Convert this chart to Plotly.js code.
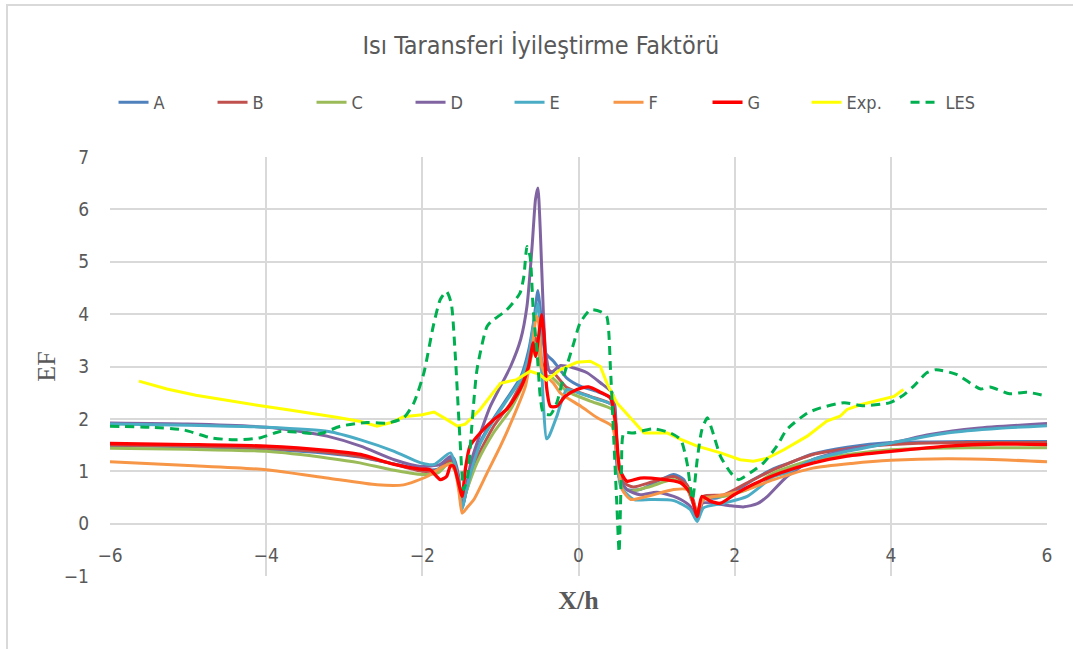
<!DOCTYPE html>
<html>
<head>
<meta charset="utf-8">
<script src="https://cdn.plot.ly/plotly-3.0.1.min.js"></script>
<style>
  html, body { margin: 0; padding: 0; background: #fff; }
  #wrap { position: relative; width: 1073px; height: 649px; overflow: hidden; }
  #chart { position: absolute; left: 0; top: 0; width: 1073px; height: 649px; }
  #frame { position: absolute; left: 6px; top: 4px; width: 1080px; height: 660px;
           border-left: 2px solid #d9d9d9; border-top: 2px solid #d9d9d9; pointer-events: none; }
</style>
</head>
<body>
<div id="wrap">
  <div id="chart"></div>
  <div id="frame"></div>
</div>
<script>
// ---- Data ----
const seriesNames = ["A", "B", "C", "D", "E", "F", "G", "Exp.", "LES"];

const xA = [-6, -5, -4, -3.2, -2.8, -2.4, -2.0, -1.8, -1.68, -1.6, -1.54, -1.49, -1.44, -1.38, -1.26, -1.09, -0.91, -0.74, -0.64, -0.57, -0.52, -0.49, -0.45, -0.42, -0.32, -0.15, 0.03, 0.24, 0.41, 0.45, 0.5, 0.56, 0.62, 0.79, 1.05, 1.22, 1.35, 1.45, 1.54, 1.6, 1.77, 2.0, 2.24, 2.5, 2.67, 3.0, 3.44, 4.0, 4.5, 5.0, 5.5, 6.0];
const yA = [1.49, 1.47, 1.42, 1.34, 1.27, 1.15, 1.03, 1.04, 1.22, 1.25, 0.95, 0.3, 0.6, 1.0, 1.55, 2.0, 2.4, 2.8, 3.3, 3.9, 4.45, 4.1, 3.45, 3.25, 3.1, 2.78, 2.62, 2.52, 2.4, 2.2, 1.0, 0.75, 0.65, 0.65, 0.84, 0.94, 0.84, 0.45, 0.14, 0.46, 0.49, 0.62, 0.84, 1.05, 1.14, 1.33, 1.46, 1.55, 1.56, 1.57, 1.57, 1.57];

const xB = [-6, -5, -4, -3.2, -2.8, -2.4, -2.0, -1.8, -1.68, -1.6, -1.54, -1.49, -1.44, -1.3, -1.09, -0.87, -0.7, -0.59, -0.55, -0.51, -0.45, -0.4, -0.3, -0.15, 0.15, 0.43, 0.47, 0.52, 0.58, 0.7, 0.95, 1.22, 1.39, 1.47, 1.52, 1.6, 1.86, 2.16, 2.5, 3.0, 3.5, 4.0, 4.5, 5.0, 5.5, 6.0];
const yB = [1.50, 1.48, 1.44, 1.36, 1.28, 1.15, 1.0, 1.02, 1.18, 1.2, 0.9, 0.32, 0.6, 1.25, 1.85, 2.3, 2.8, 3.35, 3.55, 3.35, 3.0, 2.95, 2.85, 2.6, 2.43, 2.27, 2.0, 1.0, 0.78, 0.7, 0.8, 0.9, 0.74, 0.45, 0.2, 0.52, 0.55, 0.78, 1.03, 1.32, 1.44, 1.51, 1.54, 1.55, 1.55, 1.55];

const xC = [-6, -5, -4, -3.2, -2.8, -2.4, -2.0, -1.8, -1.68, -1.6, -1.54, -1.49, -1.44, -1.3, -1.09, -0.87, -0.7, -0.59, -0.55, -0.51, -0.45, -0.36, -0.15, 0.15, 0.43, 0.47, 0.52, 0.58, 0.67, 0.92, 1.22, 1.39, 1.47, 1.52, 1.6, 1.86, 2.16, 2.5, 3.0, 3.5, 4.0, 4.5, 5.0, 5.5, 6.0];
const yC = [1.44, 1.42, 1.38, 1.25, 1.16, 1.03, 0.94, 0.97, 1.13, 1.15, 0.85, 0.36, 0.6, 1.16, 1.73, 2.18, 2.69, 3.26, 3.45, 3.26, 2.81, 2.81, 2.53, 2.34, 2.18, 1.9, 0.9, 0.7, 0.62, 0.71, 0.84, 0.68, 0.4, 0.17, 0.49, 0.52, 0.65, 0.97, 1.22, 1.33, 1.41, 1.44, 1.45, 1.45, 1.45];

const xD = [-6, -5, -4, -3.6, -3.22, -2.79, -2.36, -2.02, -1.77, -1.64, -1.56, -1.49, -1.45, -1.38, -1.256, -1.13, -1.0, -0.87, -0.74, -0.66, -0.594, -0.55, -0.52, -0.49, -0.45, -0.42, -0.36, -0.23, -0.06, 0.11, 0.28, 0.43, 0.47, 0.52, 0.62, 0.79, 1.0, 1.22, 1.31, 1.43, 1.52, 1.58, 1.73, 1.95, 2.12, 2.29, 2.42, 2.67, 3.0, 3.44, 4.0, 4.5, 5.1, 6.0];
const yD = [1.92, 1.90, 1.84, 1.77, 1.67, 1.48, 1.22, 1.09, 1.13, 1.28, 1.0, 0.33, 0.59, 1.16, 1.73, 2.24, 2.62, 3.0, 3.52, 4.15, 5.3, 6.2, 6.41, 5.62, 4.03, 3.26, 2.88, 3.02, 2.97, 2.88, 2.69, 2.5, 2.2, 0.9, 0.65, 0.55, 0.6, 0.52, 0.46, 0.33, 0.08, 0.39, 0.39, 0.34, 0.32, 0.38, 0.52, 0.9, 1.22, 1.41, 1.54, 1.70, 1.82, 1.91];

const xE = [-6, -5, -4, -3.2, -2.79, -2.36, -2.02, -1.85, -1.64, -1.56, -1.49, -1.45, -1.38, -1.26, -1.09, -0.91, -0.74, -0.64, -0.57, -0.52, -0.49, -0.45, -0.41, -0.38, -0.28, -0.15, 0.02, 0.23, 0.43, 0.47, 0.54, 0.71, 0.92, 1.22, 1.43, 1.52, 1.6, 1.86, 2.16, 2.5, 2.67, 3.0, 3.44, 4.0, 4.72, 5.4, 6.0];
const yE = [1.90, 1.88, 1.84, 1.76, 1.60, 1.38, 1.16, 1.13, 1.35, 1.0, 0.27, 0.55, 0.97, 1.52, 1.97, 2.37, 2.75, 3.2, 3.85, 4.2, 3.6, 2.3, 1.62, 1.66, 2.04, 2.56, 2.49, 2.38, 2.27, 2.0, 0.71, 0.46, 0.46, 0.44, 0.27, 0.04, 0.3, 0.39, 0.52, 0.9, 0.97, 1.22, 1.38, 1.54, 1.73, 1.82, 1.87];

const xF = [-6, -5, -4, -3.22, -2.58, -2.24, -1.94, -1.75, -1.64, -1.58, -1.53, -1.49, -1.43, -1.34, -1.17, -1.0, -0.83, -0.68, -0.59, -0.54, -0.51, -0.47, -0.4, -0.32, -0.23, 0.03, 0.24, 0.43, 0.47, 0.56, 0.67, 0.88, 1.22, 1.39, 1.47, 1.52, 1.6, 1.86, 2.16, 2.5, 3.0, 3.5, 4.0, 4.72, 5.4, 6.0];
const yF = [1.18, 1.11, 1.03, 0.87, 0.74, 0.74, 0.9, 1.08, 1.13, 1.0, 0.6, 0.2, 0.3, 0.46, 0.97, 1.48, 2.05, 2.62, 3.39, 3.96, 3.83, 3.0, 2.8, 2.68, 2.49, 2.24, 2.02, 1.86, 1.6, 0.65, 0.46, 0.52, 0.65, 0.65, 0.4, 0.2, 0.46, 0.55, 0.65, 0.84, 1.06, 1.15, 1.21, 1.24, 1.22, 1.18];

const xG = [-6, -5, -4, -3.22, -2.79, -2.36, -2.02, -1.9, -1.77, -1.69, -1.64, -1.6, -1.54, -1.49, -1.45, -1.39, -1.26, -1.09, -0.92, -0.75, -0.64, -0.58, -0.55, -0.51, -0.47, -0.44, -0.41, -0.36, -0.28, -0.17, -0.02, 0.13, 0.28, 0.41, 0.47, 0.53, 0.62, 0.79, 1.05, 1.31, 1.43, 1.52, 1.58, 1.69, 1.82, 1.99, 2.24, 2.59, 3.01, 3.44, 4.0, 4.72, 5.36, 6.0];
const yG = [1.53, 1.51, 1.48, 1.40, 1.32, 1.13, 1.04, 1.03, 0.84, 0.9, 1.1, 1.1, 0.8, 0.52, 1.03, 1.48, 1.73, 1.98, 2.18, 2.56, 3.0, 3.45, 3.19, 3.58, 3.99, 3.58, 2.62, 2.24, 2.24, 2.43, 2.56, 2.61, 2.51, 2.40, 1.98, 1.03, 0.81, 0.87, 0.85, 0.78, 0.59, 0.14, 0.52, 0.43, 0.39, 0.55, 0.75, 0.97, 1.16, 1.29, 1.38, 1.48, 1.52, 1.51];

const xExp = [-5.63, -5.27, -4.9, -4.5, -4.07, -3.7, -3.43, -3.1, -2.79, -2.58, -2.4, -2.24, -2.0, -1.85, -1.7, -1.55, -1.45, -1.26, -1.0, -0.79, -0.62, -0.5, -0.41, -0.23, -0.02, 0.15, 0.28, 0.37, 0.49, 0.67, 0.84, 1.14, 1.31, 1.52, 1.82, 2.07, 2.24, 2.42, 2.63, 2.93, 3.18, 3.35, 3.44, 3.61, 3.87, 4.04, 4.16];
const yExp = [2.72, 2.57, 2.45, 2.35, 2.25, 2.17, 2.11, 2.03, 1.95, 1.86, 1.93, 2.04, 2.08, 2.13, 2.0, 1.86, 1.9, 2.18, 2.68, 2.75, 2.91, 2.85, 2.74, 2.94, 3.08, 3.10, 3.0, 2.66, 2.31, 2.02, 1.73, 1.73, 1.61, 1.48, 1.35, 1.22, 1.19, 1.25, 1.41, 1.67, 1.96, 2.05, 2.18, 2.27, 2.37, 2.43, 2.56];

const xLES = [-6, -5.48, -5.06, -4.71, -4.41, -4.07, -3.82, -3.56, -3.3, -3.05, -2.71, -2.45, -2.24, -2.11, -1.98, -1.86, -1.77, -1.69, -1.63, -1.58, -1.52, -1.47, -1.42, -1.37, -1.30, -1.17, -1.09, -0.92, -0.75, -0.70, -0.66, -0.62, -0.58, -0.53, -0.49, -0.45, -0.36, -0.28, -0.19, -0.06, 0.02, 0.15, 0.28, 0.36, 0.41, 0.45, 0.49, 0.52, 0.55, 0.58, 0.70, 0.96, 1.18, 1.31, 1.39, 1.46, 1.52, 1.58, 1.65, 1.71, 1.82, 1.95, 2.05, 2.20, 2.37, 2.54, 2.67, 2.93, 3.10, 3.40, 3.65, 3.99, 4.14, 4.29, 4.46, 4.58, 4.84, 5.15, 5.27, 5.52, 5.74, 6.0];
const yLES = [1.86, 1.84, 1.79, 1.64, 1.60, 1.64, 1.76, 1.74, 1.72, 1.86, 1.93, 1.92, 2.02, 2.30, 2.88, 3.77, 4.28, 4.43, 4.21, 3.26, 1.67, 0.65, 0.9, 1.79, 2.94, 3.77, 3.89, 4.08, 4.40, 4.72, 5.29, 5.10, 4.08, 3.26, 2.43, 2.11, 2.08, 2.30, 2.81, 3.45, 3.83, 4.08, 4.05, 3.96, 2.94, 1.67, 0.40, -0.55, 1.03, 1.73, 1.73, 1.81, 1.73, 1.60, 1.16, 0.46, 1.22, 1.79, 2.02, 1.79, 1.28, 0.97, 0.84, 0.97, 1.16, 1.48, 1.80, 2.11, 2.21, 2.31, 2.25, 2.31, 2.43, 2.62, 2.88, 2.94, 2.85, 2.57, 2.61, 2.48, 2.51, 2.43];

const titleText = "Isı Taransferi İyileştirme Faktörü";
const xTitle = "X/h";
const yTitle = "EF";

// ---- Styling ----
const narrow = "'Liberation Sans Narrow', 'DejaVu Sans Condensed', 'Liberation Sans', sans-serif";
const serif = "'Liberation Serif', 'DejaVu Serif', serif";
const textGray = "#595959";
const grid = "#d9d9d9";

const xs = [xA, xB, xC, xD, xE, xF, xG, xExp, xLES];
const ys = [yA, yB, yC, yD, yE, yF, yG, yExp, yLES];
const colors = ["#4F81BD", "#C0504D", "#9BBB59", "#8064A2", "#4BACC6", "#F79646", "#FF0000", "#FFFF00", "#00B050"];

const traces = seriesNames.map((name, i) => {
  const isExp = name === "Exp.";
  const isLES = name === "LES";
  return {
    x: xs[i], y: ys[i], name: name, type: "scatter", mode: "lines",
    line: {
      color: colors[i],
      width: (name === "G") ? 3.3 : 3,
      shape: isExp ? "linear" : "spline",
      smoothing: 0.6,
      dash: isLES ? "9px,6px" : "solid"
    },
    hoverinfo: "skip"
  };
});

const layout = {
  width: 1073, height: 649,
  margin: {l: 110, r: 26, t: 157, b: 73, pad: 0},
  paper_bgcolor: "#ffffff", plot_bgcolor: "#ffffff",
  title: {
    text: titleText, x: 0.504, xanchor: "center", y: 0.93, yanchor: "middle",
    font: {family: narrow, size: 25, color: textGray}
  },
  showlegend: true,
  legend: {
    orientation: "h", x: 0.521, xanchor: "center", xref: "container",
    y: 0.842, yanchor: "middle", yref: "container",
    font: {family: narrow, size: 18, color: textGray},
    itemwidth: 30, entrywidth: 54, entrywidthmode: "pixels",
    traceorder: "normal", bgcolor: "rgba(0,0,0,0)"
  },
  xaxis: {
    range: [-6, 6], tick0: -6, dtick: 2, tickmode: "linear",
    showgrid: true, gridcolor: grid, gridwidth: 2,
    zeroline: false, showline: false, ticks: "",
    anchor: "free", position: 0.125,
    ticklabelstandoff: 18,
    tickfont: {family: narrow, size: 19, color: textGray},
    title: {text: xTitle, standoff: 26, font: {family: serif, size: 26, color: textGray, weight: "bold"}}
  },
  yaxis: {
    range: [-1, 7], tick0: -1, dtick: 1, tickmode: "linear",
    showgrid: true, gridcolor: grid, gridwidth: 2,
    zeroline: false, showline: false, ticks: "",
    ticklabelstandoff: 20,
    tickfont: {family: narrow, size: 19, color: textGray},
    title: {text: yTitle, standoff: 0, font: {family: serif, size: 26, color: textGray}}
  }
};

Plotly.newPlot("chart", traces, layout, {staticPlot: true, displayModeBar: false});
</script>
</body>
</html>
